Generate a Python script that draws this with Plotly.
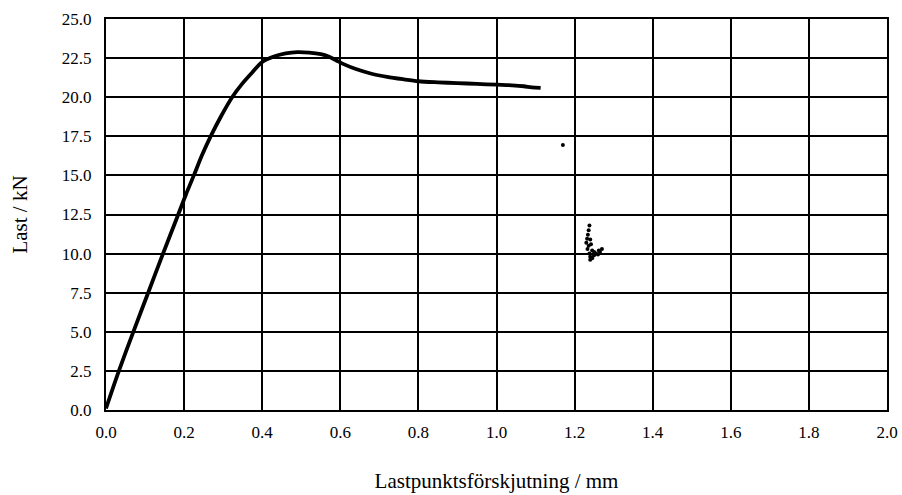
import plotly.graph_objects as go

# Main load-displacement curve
disp = [0, 0.033, 0.07, 0.108, 0.146, 0.185, 0.205, 0.225, 0.246, 0.268, 0.295, 0.323,
        0.35, 0.375, 0.40, 0.43, 0.46, 0.49, 0.52, 0.55, 0.57, 0.59, 0.61, 0.64, 0.68,
        0.72, 0.76, 0.8, 0.85, 0.9, 0.95, 1.0, 1.04, 1.07, 1.09, 1.113]
load = [0.1, 2.5, 5.0, 7.5, 10.0, 12.5, 13.8, 15.0, 16.3, 17.5, 18.8, 20.0,
        20.9, 21.6, 22.25, 22.6, 22.8, 22.88, 22.85, 22.75, 22.6, 22.35, 22.1, 21.8, 21.5,
        21.3, 21.15, 21.02, 20.95, 20.9, 20.85, 20.8, 20.76, 20.7, 20.63, 20.6]

# Scattered points after failure
scatter_x = [1.17, 1.238, 1.236, 1.234, 1.232, 1.240, 1.230, 1.236, 1.242, 1.233, 1.245, 1.238,
             1.240, 1.245, 1.250, 1.255, 1.260, 1.265, 1.270, 1.262, 1.250, 1.240, 1.245]
scatter_y = [16.95, 11.8, 11.5, 11.2, 10.95, 10.9, 10.7, 10.5, 10.6, 10.3, 10.2, 10.0,
             9.8, 9.7, 9.9, 10.0, 9.95, 10.1, 10.3, 10.2, 10.1, 9.6, 9.75]

x_title = "Lastpunktsförskjutning / mm"
y_title = "Last / kN"

fig = go.Figure()
fig.add_trace(go.Scatter(x=disp, y=load, mode="lines",
                         line=dict(color="black", width=3.8, shape="spline", smoothing=0.8),
                         showlegend=False))
fig.add_trace(go.Scatter(x=scatter_x, y=scatter_y, mode="markers",
                         marker=dict(color="black", size=4),
                         showlegend=False))

serif = "Liberation Serif"
fig.update_layout(
    width=902, height=495,
    margin=dict(l=106, r=15, t=19, b=85),
    paper_bgcolor="white", plot_bgcolor="white",
    font=dict(family=serif, size=17, color="black"),
)
fig.update_xaxes(range=[0, 2.0], dtick=0.2, tick0=0, tickformat=".1f",
                 showgrid=True, gridcolor="black", gridwidth=1.6,
                 showline=True, linecolor="black", linewidth=2.2, mirror=True,
                 zeroline=False, ticks="outside", ticklen=5, tickcolor="rgba(0,0,0,0)",
                 automargin=False,
                 title=dict(text=x_title, standoff=33, font=dict(family=serif, size=21)),
                 tickfont=dict(family=serif, size=17, color="black"))
fig.update_yaxes(range=[0, 25.0], dtick=2.5, tick0=0, tickformat=".1f",
                 showgrid=True, gridcolor="black", gridwidth=1.6,
                 showline=True, linecolor="black", linewidth=2.2, mirror=True,
                 zeroline=False, ticks="outside", ticklen=9, tickcolor="rgba(0,0,0,0)",
                 automargin=False,
                 title=dict(text=y_title, standoff=28, font=dict(family=serif, size=21)),
                 tickfont=dict(family=serif, size=17, color="black"))

fig.write_html("out.html")
